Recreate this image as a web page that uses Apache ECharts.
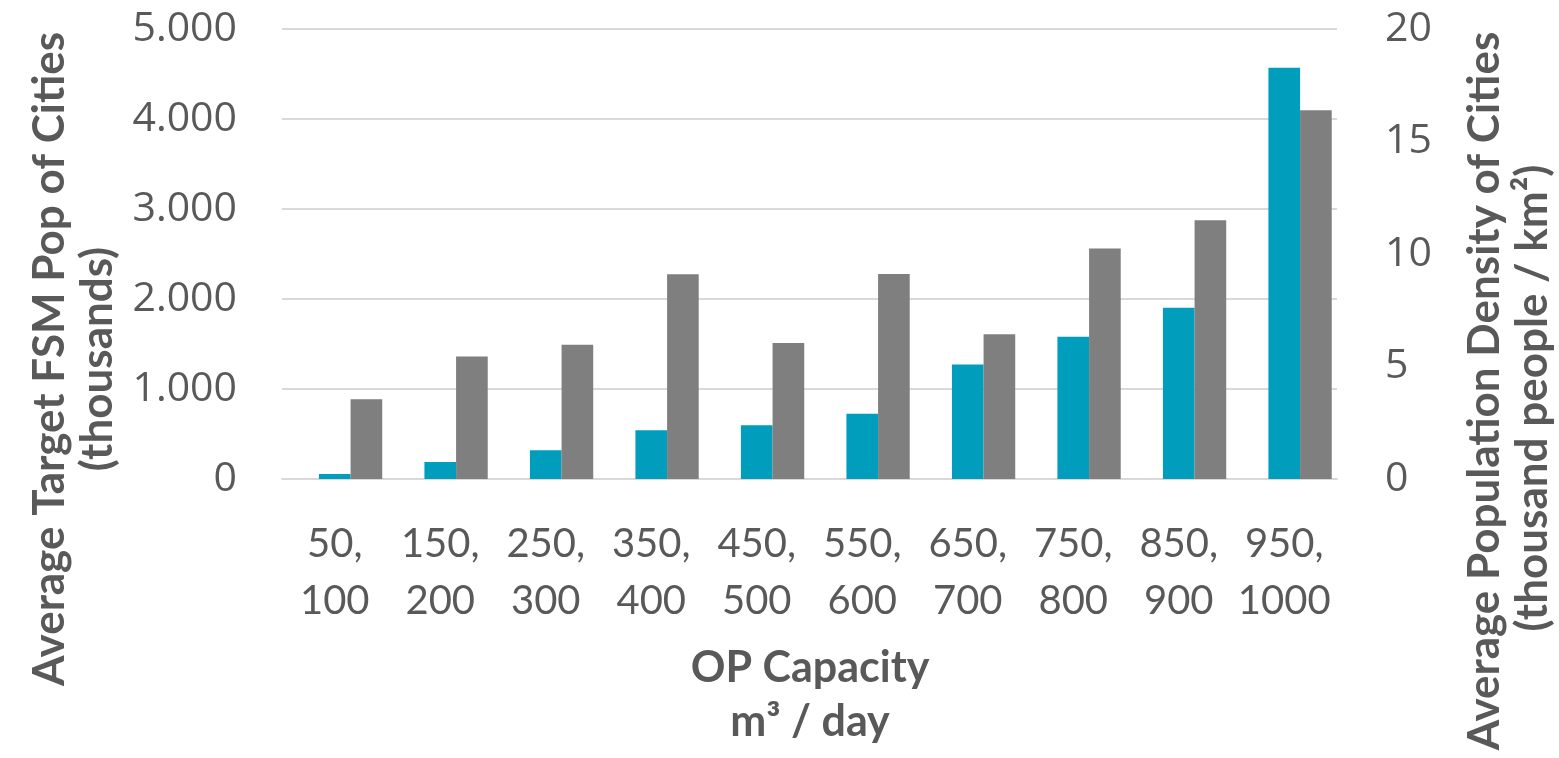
<!DOCTYPE html>
<html>
<head>
<meta charset="utf-8">
<script src="https://cdn.jsdelivr.net/npm/echarts@6/dist/echarts.min.js"></script>
<style>
html,body{margin:0;padding:0;background:#fff;}
#chart{width:1559px;height:758px;}
</style>
</head>
<body>
<div id="chart"></div>
<script>
// ---- data ----
const categories = ['50,\n100', '150,\n200', '250,\n300', '350,\n400', '450,\n500',
                    '550,\n600', '650,\n700', '750,\n800', '850,\n900', '950,\n1000'];
const fsmPop = [55, 189, 319, 541, 596, 725, 1273, 1581, 1903, 4570];          // thousands (left axis)
const popDensity = [3.54, 5.45, 5.97, 9.10, 6.04, 9.11, 6.43, 10.24, 11.50, 16.39]; // thousand people / km² (right axis)
const placeholder = [null, null, null, null, null, null, null, null, null, null];
const leftTitle = ['Average Target FSM Pop of Cities', '(thousands)'];
const rightTitle = ['Average Population Density of Cities', '(thousand people / km²)'];
const xTitle = ['OP Capacity', 'm³ / day'];

const textColor = '#595959';
const gridColor = '#d9d9d9';

function thousands(v) {
  return String(v).replace(/\B(?=(\d{3})+(?!\d))/g, '.');
}

const chart = echarts.init(document.getElementById('chart'), null, {renderer: 'canvas'});
const titleFont = 'bold 44px Lato';
const option = {
  animation: false,
  backgroundColor: '#ffffff',
  grid: {left: 282, right: 222, top: 29, bottom: 279, containLabel: false},
  xAxis: {
    type: 'category',
    data: categories,
    axisTick: {show: false},
    axisLine: {show: true, lineStyle: {color: gridColor, width: 2}},
    axisLabel: {
      color: textColor, fontFamily: 'Lato', fontSize: 40, lineHeight: 57,
      margin: 37, interval: 0
    }
  },
  yAxis: [
    {
      type: 'value', min: 0, max: 5000, interval: 1000,
      axisLine: {show: false}, axisTick: {show: false},
      splitLine: {show: true, lineStyle: {color: gridColor, width: 2}},
      axisLabel: {color: textColor, fontFamily: 'Open Sans', fontSize: 41, margin: 45,
                  formatter: thousands}
    },
    {
      type: 'value', min: 0, max: 20, interval: 5,
      axisLine: {show: false}, axisTick: {show: false},
      splitLine: {show: false},
      axisLabel: {color: textColor, fontFamily: 'Open Sans', fontSize: 41, margin: 48, align: 'left'}
    }
  ],
  series: [
    {type: 'bar', yAxisIndex: 0, data: placeholder, barGap: '0%', barCategoryGap: '10%', silent: true},
    {type: 'bar', name: 'Target FSM Pop', yAxisIndex: 0, data: fsmPop,
     itemStyle: {color: '#009dbd'}, barGap: '0%', barCategoryGap: '10%'},
    {type: 'bar', name: 'Population Density', yAxisIndex: 1, data: popDensity,
     itemStyle: {color: '#7f7f7f'}, barGap: '0%', barCategoryGap: '10%'}
  ],
  graphic: [
    {type: 'text', x: 50, y: 359, rotation: Math.PI / 2,
     style: {text: leftTitle[0], font: titleFont, fill: textColor, align: 'center', verticalAlign: 'middle'}},
    {type: 'text', x: 98, y: 359, rotation: Math.PI / 2,
     style: {text: leftTitle[1], font: titleFont, fill: textColor, align: 'center', verticalAlign: 'middle'}},
    {type: 'text', x: 1485, y: 391, rotation: Math.PI / 2,
     style: {text: rightTitle[0], font: titleFont, fill: textColor, align: 'center', verticalAlign: 'middle'}},
    {type: 'text', x: 1533, y: 398, rotation: Math.PI / 2,
     style: {text: rightTitle[1], font: titleFont, fill: textColor, align: 'center', verticalAlign: 'middle'}},
    {type: 'text', x: 810, y: 668,
     style: {text: xTitle[0], font: 'bold 43px Lato', fill: textColor, align: 'center', verticalAlign: 'middle'}},
    {type: 'text', x: 810, y: 722,
     style: {text: xTitle[1], font: 'bold 43px Lato', fill: textColor, align: 'center', verticalAlign: 'middle'}}
  ]
};
chart.setOption(option);
</script>
</body>
</html>
